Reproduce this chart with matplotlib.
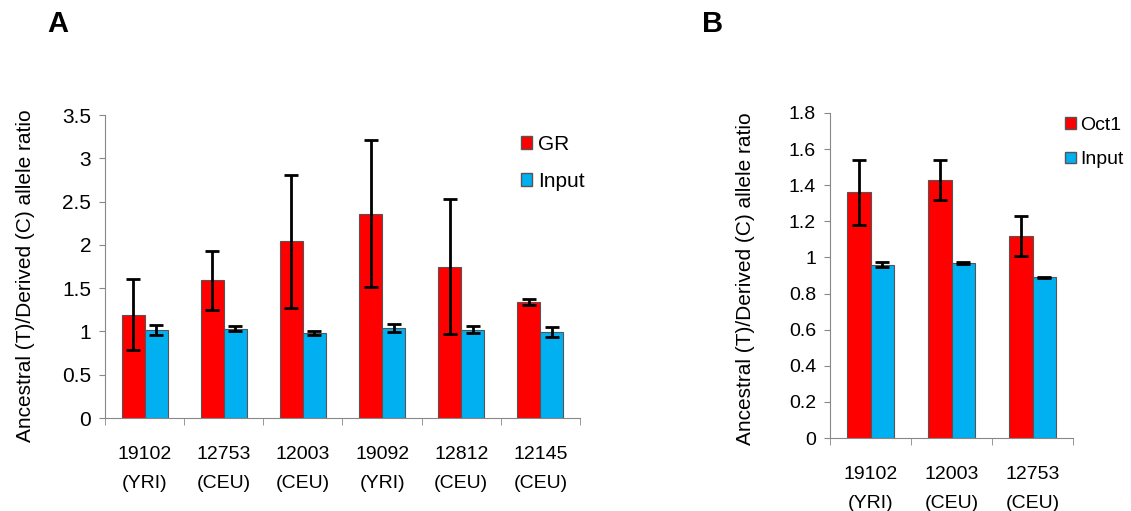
import matplotlib.pyplot as plt
import numpy as np
from matplotlib.patches import Patch

plt.rcParams["font.family"] = ["Liberation Sans", "DejaVu Sans"]

# Panel A data
a_labels = ["19102\n(YRI)", "12753\n(CEU)", "12003\n(CEU)", "19092\n(YRI)", "12812\n(CEU)", "12145\n(CEU)"]
a_gr = [1.19, 1.59, 2.04, 2.36, 1.75, 1.34]
a_gr_err = [0.41, 0.34, 0.77, 0.85, 0.78, 0.04]
a_input = [1.02, 1.03, 0.98, 1.04, 1.02, 0.99]
a_input_err = [0.06, 0.03, 0.02, 0.05, 0.04, 0.06]

# Panel B data
b_labels = ["19102\n(YRI)", "12003\n(CEU)", "12753\n(CEU)"]
b_oct1 = [1.36, 1.43, 1.12]
b_oct1_err = [0.18, 0.11, 0.11]
b_input = [0.96, 0.97, 0.89]
b_input_err = [0.015, 0.004, 0.004]

RED = "#ff0000"
BLUE = "#00b0f0"
EDGE = "#555555"
W = 0.29
YLABEL = "Ancestral (T)/Derived (C) allele ratio"


def draw_panel(ax, labels, v1, e1, v2, e2, ymax, ystep, yticksize):
    x = np.arange(len(labels))
    err_kw = dict(ecolor="black", elinewidth=2, capsize=5, capthick=2)
    ax.bar(x - W / 2, v1, W, yerr=e1, color=RED, edgecolor=EDGE,
           linewidth=0.8, error_kw=err_kw)
    ax.bar(x + W / 2, v2, W, yerr=e2, color=BLUE, edgecolor=EDGE,
           linewidth=0.8, error_kw=err_kw)
    ax.set_xlim(-0.5, len(labels) - 0.5)
    ax.set_ylim(0, ymax)
    yt = np.arange(0, ymax + 1e-9, ystep)
    ax.set_yticks(yt)
    ax.set_yticklabels([f"{v:g}" for v in yt])
    ax.set_xticks(x)
    ax.set_xticklabels(labels, linespacing=1.95)
    ax.set_xticks(np.arange(-0.5, len(labels)), minor=True)
    ax.tick_params(axis="x", which="major", length=0, pad=20, labelsize=14)
    ax.tick_params(axis="x", which="minor", length=5, color="#888888")
    ax.tick_params(axis="y", length=4, color="#888888", labelsize=yticksize, pad=6)
    for s in ["top", "right"]:
        ax.spines[s].set_visible(False)
    for s in ["left", "bottom"]:
        ax.spines[s].set_color("#888888")
    ax.set_ylabel(YLABEL, fontsize=15)


def add_legend(ax, names, x_px, y_px, size, spacing):
    handles = [Patch(facecolor=RED, edgecolor=EDGE, label=names[0]),
               Patch(facecolor=BLUE, edgecolor=EDGE, label=names[1])]
    ax.legend(handles=handles, loc="upper left",
              bbox_to_anchor=(x_px / 1131, 1 - y_px / 511),
              bbox_transform=ax.figure.transFigure, frameon=False, fontsize=size,
              handlelength=0.55, handleheight=0.55, handletextpad=0.25,
              labelspacing=spacing, borderpad=0, borderaxespad=0)


fig = plt.figure(figsize=(11.31, 5.11), dpi=100)

ax_a = fig.add_axes([105 / 1131, 93 / 511, 475 / 1131, 303 / 511])
draw_panel(ax_a, a_labels, a_gr, a_gr_err, a_input, a_input_err, 3.5, 0.5, 15)
ax_a.yaxis.set_label_coords(-0.147, 0.47)
add_legend(ax_a, ["GR", "Input"], 521, 135, 15, 0.87)

ax_b = fig.add_axes([830 / 1131, 73 / 511, 243 / 1131, 325 / 511])
draw_panel(ax_b, b_labels, b_oct1, b_oct1_err, b_input, b_input_err, 1.8, 0.2, 14)
ax_b.yaxis.set_label_coords(-0.309, 0.49)
add_legend(ax_b, ["Oct1", "Input"], 1065, 117, 14, 0.9)

fig.text(47 / 1131, 1 - 24 / 511, "A", fontsize=21, fontweight="bold", va="center")
fig.text(702 / 1131, 1 - 24 / 511, "B", fontsize=21, fontweight="bold", va="center")

fig.savefig("out.png", dpi=100)
plt.close(fig)
